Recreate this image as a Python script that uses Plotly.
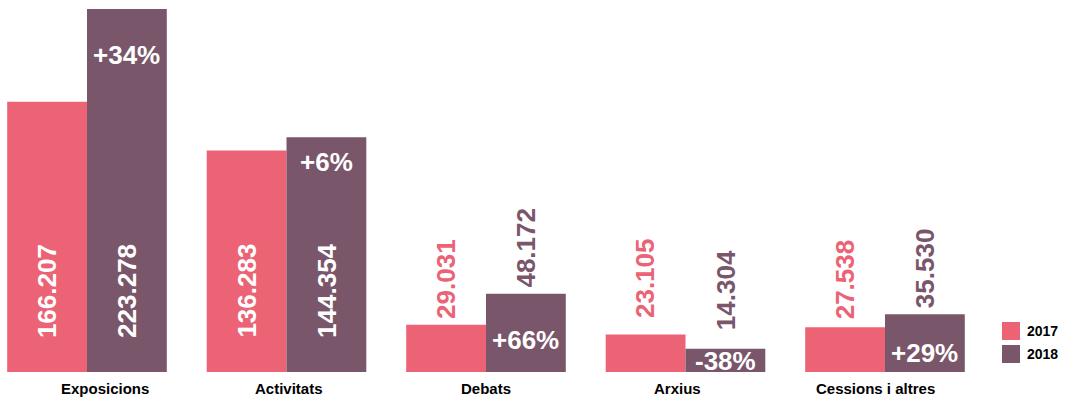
import plotly.graph_objects as go

categories = ["Exposicions", "Activitats", "Debats", "Arxius", "Cessions i altres"]
years = ["2017", "2018"]
values_2017 = [166207, 136283, 29031, 23105, 27538]
values_2018 = [223278, 144354, 48172, 14304, 35530]

PINK = "#EB6375"
PURPLE = "#7A566A"
FONT = "Liberation Sans"

# layout tweaks (pixels)
label_dx = [18, 2, 0, -8, -10]
pct_dy = [-29, -8, -29, 5, -22]
out_lift_2017 = [0, 0, 0, 10, 2]
out_lift_2018 = [0, 0, 0, 13, 0]
INSIDE_MIN = 60000

W, H = 1065, 401
slot = 199.5
first_center = 87
r0 = -first_center / slot
r1 = r0 + W / slot

def fmt(v):
    return f"{v:,}".replace(",", ".")

idx = list(range(len(categories)))
fig = go.Figure()
fig.add_trace(go.Bar(x=idx, y=values_2017, name=years[0], marker_color=PINK,
                     width=0.4, offset=-0.4, marker_line_width=0, showlegend=False))
fig.add_trace(go.Bar(x=idx, y=values_2018, name=years[1], marker_color=PURPLE,
                     width=0.4, offset=0.0, marker_line_width=0, showlegend=False))

ann = []
for i, (a, b) in enumerate(zip(values_2017, values_2018)):
    for v, dx, col, lift in ((a, -0.2, PINK, out_lift_2017[i]), (b, 0.2, PURPLE, out_lift_2018[i])):
        if v >= INSIDE_MIN:
            ann.append(dict(x=i + dx, y=0, text=fmt(v), textangle=-90, showarrow=False,
                            xanchor="center", yanchor="bottom", yshift=32,
                            font=dict(family=FONT, size=26, color="white", weight="bold")))
        else:
            ann.append(dict(x=i + dx, y=v, text=fmt(v), textangle=-90, showarrow=False,
                            xanchor="center", yanchor="bottom", yshift=4 + lift,
                            font=dict(family=FONT, size=26, color=col, weight="bold")))
    pct = round((b / a - 1) * 100)
    ptxt = f"+{pct}%" if pct >= 0 else f"-{abs(pct)}%"
    ann.append(dict(x=i + 0.2, y=b, text=ptxt, showarrow=False, xanchor="center",
                    yanchor="top", yshift=pct_dy[i],
                    font=dict(family=FONT, size=26, color="white", weight="bold")))
    ann.append(dict(x=i, y=0, text=categories[i], showarrow=False, xanchor="center",
                    yanchor="middle", yshift=-16, xshift=label_dx[i],
                    font=dict(family=FONT, size=15, color="black", weight="bold")))

# manual legend
shapes = []
leg_colors = [PINK, PURPLE]
for k, (name, col) in enumerate(zip(years, leg_colors)):
    ytop = 322 + k * 23
    y0 = (372 - ytop - 18) / 363
    y1 = (372 - ytop) / 363
    shapes.append(dict(type="rect", xref="paper", yref="paper",
                       x0=1002 / W, x1=1020 / W, y0=y0, y1=y1,
                       fillcolor=col, line_width=0))
    ann.append(dict(xref="paper", yref="paper", x=1025 / W, y=(y0 + y1) / 2, text=name,
                    showarrow=False, xanchor="left", yanchor="middle",
                    font=dict(family=FONT, size=14, color="black", weight="bold")))

fig.update_layout(
    width=W, height=H,
    margin=dict(l=0, r=0, t=9, b=29),
    paper_bgcolor="white", plot_bgcolor="white",
    barmode="overlay",
    xaxis=dict(range=[r0, r1], showgrid=False, zeroline=False, showticklabels=False,
               showline=False, fixedrange=True),
    yaxis=dict(range=[0, max(values_2018)], showgrid=False, zeroline=False,
               showticklabels=False, showline=False, fixedrange=True),
    annotations=ann, shapes=shapes,
    showlegend=False,
)
fig.write_html("out.html", config={"displayModeBar": False},
               post_script="document.body.style.margin='0';document.body.style.overflow='hidden';")
